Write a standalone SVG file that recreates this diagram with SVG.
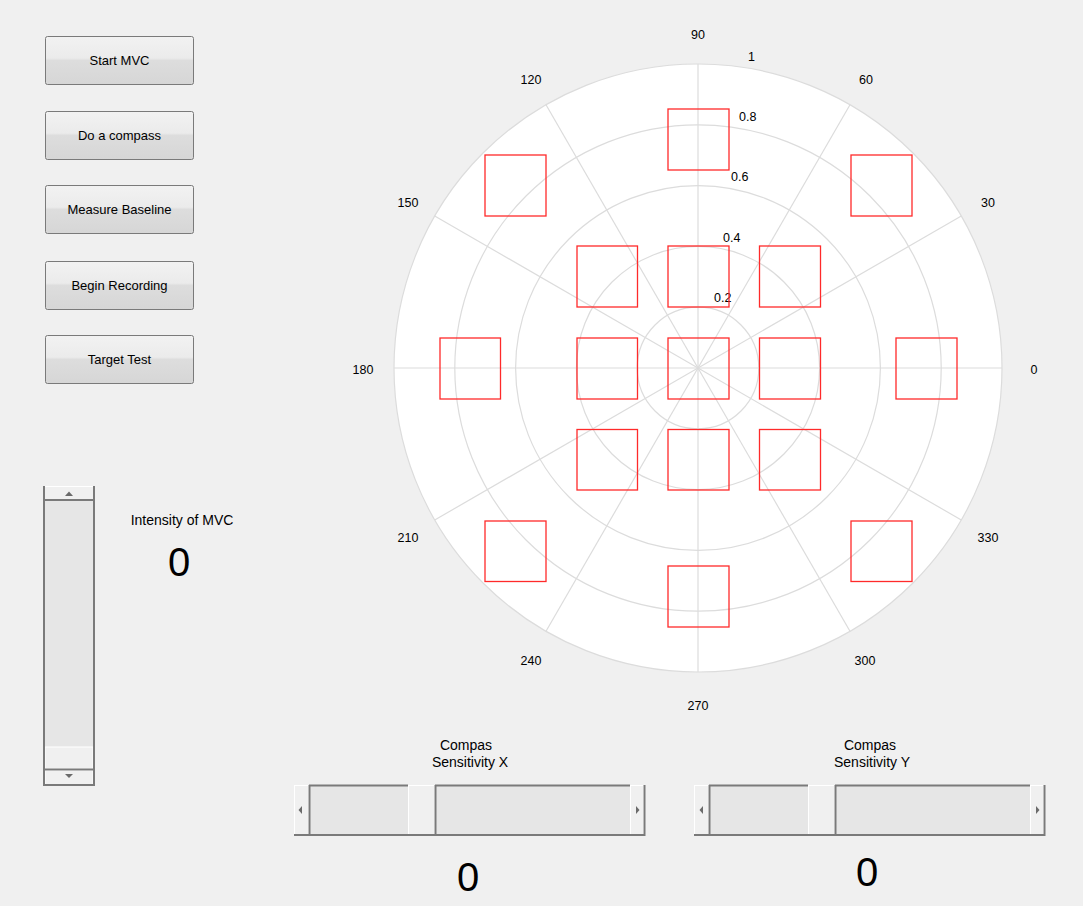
<svg xmlns="http://www.w3.org/2000/svg" width="1083" height="906" viewBox="0 0 1083 906">
<defs>
<linearGradient id="btn" x1="0" y1="0" x2="0" y2="1">
<stop offset="0" stop-color="#f2f2f2"/>
<stop offset="0.45" stop-color="#ebebeb"/>
<stop offset="0.5" stop-color="#dddddd"/>
<stop offset="1" stop-color="#d6d6d6"/>
</linearGradient>
</defs>
<style>
text{font-family:"Liberation Sans",Arial,sans-serif;fill:#000}
.btn rect{fill:url(#btn);stroke:#7a7a7a;stroke-width:1}
.btn text{font-size:13px;text-anchor:middle}
.grid{fill:none;stroke:#dcdcdc;stroke-width:1.2}
.tick{font-size:12.5px;text-anchor:middle}
.rt{font-size:12.5px}
.sq{fill:none;stroke:#ff2a2a;stroke-width:1.3}
.trough{fill:#e6e6e6}
.arrowbtn{fill:#f0f0f0;stroke:#ffffff;stroke-width:1}
.lbl{font-size:14px;text-anchor:middle}
.big{font-size:40px;text-anchor:middle}
.edge{stroke:#7a7a7a;stroke-width:2;fill:none}
.tri{fill:#6a6a6a}
</style>
<rect width="1083" height="906" fill="#f0f0f0"/>

<g id="btn-start" class="btn"><rect x="45.5" y="36.5" width="148" height="48" rx="2"/><text x="119.5" y="65">Start MVC</text></g>
<g id="btn-compass" class="btn"><rect x="45.5" y="111.5" width="148" height="48" rx="2"/><text x="119.5" y="140">Do a compass</text></g>
<g id="btn-baseline" class="btn"><rect x="45.5" y="185.5" width="148" height="48" rx="2"/><text x="119.5" y="214">Measure Baseline</text></g>
<g id="btn-record" class="btn"><rect x="45.5" y="261.5" width="148" height="48" rx="2"/><text x="119.5" y="290">Begin Recording</text></g>
<g id="btn-target" class="btn"><rect x="45.5" y="335.5" width="148" height="48" rx="2"/><text x="119.5" y="364">Target Test</text></g>

<g id="slider-mvc">
<rect x="44" y="486" width="50" height="299" class="trough"/>
<rect x="44.5" y="486.5" width="49" height="13" class="arrowbtn"/>
<path d="M115 496 L119 491.5 L123 496 Z" class="tri" transform="translate(-50,0)"/>
<rect x="45" y="747" width="48" height="22" class="arrowbtn"/>
<rect x="45" y="770.5" width="48" height="14" class="arrowbtn"/>
<path d="M65 774 L73 774 L69 778 Z" class="tri"/>
<line x1="44" y1="486" x2="44" y2="786" class="edge" stroke-width="1"/>
<line x1="94" y1="486" x2="94" y2="786" class="edge"/>
<line x1="44" y1="785" x2="95" y2="785" class="edge"/>
<line x1="44" y1="769.5" x2="94" y2="769.5" class="edge" stroke-width="1.2"/>
<line x1="44" y1="500" x2="94" y2="500" class="edge" stroke-width="1"/>
</g>

<g id="mvc-label">
<text x="182" y="525" class="lbl">Intensity of MVC</text>
<text x="179" y="576" class="big">0</text>
</g>

<g id="polar">
<circle cx="698" cy="368" r="304" fill="#ffffff" class="grid" style="fill:#fff"/>
<circle cx="698" cy="368" r="60.8" class="grid"/>
<circle cx="698" cy="368" r="121.6" class="grid"/>
<circle cx="698" cy="368" r="182.4" class="grid"/>
<circle cx="698" cy="368" r="243.2" class="grid"/>
<g class="grid">
<line x1="394" y1="368" x2="1002" y2="368"/>
<line x1="698" y1="64" x2="698" y2="672"/>
<line x1="434.7" y1="216" x2="961.3" y2="520"/>
<line x1="434.7" y1="520" x2="961.3" y2="216"/>
<line x1="546" y1="104.7" x2="850" y2="631.3"/>
<line x1="546" y1="631.3" x2="850" y2="104.7"/>
</g>
<g class="tick">
<text x="698" y="39">90</text>
<text x="866" y="84">60</text>
<text x="988" y="207">30</text>
<text x="1034" y="374">0</text>
<text x="988" y="542">330</text>
<text x="865" y="665">300</text>
<text x="698" y="710">270</text>
<text x="531" y="665">240</text>
<text x="408" y="542">210</text>
<text x="363" y="374">180</text>
<text x="408" y="207">150</text>
<text x="531" y="84">120</text>
</g>
<g class="rt">
<text x="748" y="61">1</text>
<text x="739" y="121">0.8</text>
<text x="731" y="181">0.6</text>
<text x="723" y="242">0.4</text>
<text x="714" y="302">0.2</text>
</g>
</g>

<g id="targets" class="sq">
<rect x="668" y="109" width="61" height="61"/>
<rect x="485" y="155" width="61" height="61"/>
<rect x="851" y="155" width="61" height="61"/>
<rect x="577" y="246" width="60.5" height="61"/>
<rect x="668" y="246" width="61" height="61"/>
<rect x="759.5" y="246" width="61" height="61"/>
<rect x="440" y="338" width="60.5" height="61"/>
<rect x="577" y="338" width="60.5" height="61"/>
<rect x="668" y="338" width="61" height="61"/>
<rect x="759.5" y="338" width="61" height="61"/>
<rect x="896" y="338" width="61" height="61"/>
<rect x="577" y="429.5" width="60.5" height="60.5"/>
<rect x="668" y="429.5" width="61" height="60.5"/>
<rect x="759.5" y="429.5" width="61" height="60.5"/>
<rect x="485" y="521" width="61" height="60.5"/>
<rect x="851" y="521" width="61" height="60.5"/>
<rect x="668" y="566" width="61" height="61"/>
</g>

<g id="label-x">
<text x="466" y="750" class="lbl">Compas</text>
<text x="470" y="767" class="lbl">Sensitivity X</text>
</g>
<g id="slider-x">
<rect x="294" y="785" width="351" height="50" class="trough"/>
<rect x="294.5" y="785.5" width="14" height="49" class="arrowbtn"/>
<rect x="408.5" y="785.5" width="26" height="49" class="arrowbtn"/>
<rect x="630.5" y="785.5" width="13" height="49" class="arrowbtn"/>
<path d="M302 806 L302 814 L298.5 810 Z" class="tri"/>
<path d="M636 806 L636 814 L639.5 810 Z" class="tri"/>
<line x1="309.5" y1="785" x2="309.5" y2="835" class="edge" stroke-width="1.5"/>
<line x1="435.5" y1="785" x2="435.5" y2="835" class="edge" stroke-width="1.5"/>
<line x1="309" y1="785.5" x2="408" y2="785.5" class="edge" stroke-width="1"/>
<line x1="435" y1="785.5" x2="630" y2="785.5" class="edge" stroke-width="1"/>
<line x1="644.5" y1="785" x2="644.5" y2="836" class="edge"/>
<line x1="294" y1="835" x2="645" y2="835" class="edge"/>
</g>
<g id="value-x"><text x="468" y="891" class="big">0</text></g>

<g id="label-y">
<text x="870" y="750" class="lbl">Compas</text>
<text x="872" y="767" class="lbl">Sensitivity Y</text>
</g>
<g id="slider-y">
<rect x="694" y="785" width="351" height="50" class="trough"/>
<rect x="694.5" y="785.5" width="14" height="49" class="arrowbtn"/>
<rect x="808.5" y="785.5" width="26" height="49" class="arrowbtn"/>
<rect x="1030.5" y="785.5" width="13" height="49" class="arrowbtn"/>
<path d="M703 806 L703 814 L699.5 810 Z" class="tri"/>
<path d="M1036 806 L1036 814 L1039.5 810 Z" class="tri"/>
<line x1="709.5" y1="785" x2="709.5" y2="835" class="edge" stroke-width="1.5"/>
<line x1="835.5" y1="785" x2="835.5" y2="835" class="edge" stroke-width="1.5"/>
<line x1="709" y1="785.5" x2="808" y2="785.5" class="edge" stroke-width="1"/>
<line x1="835" y1="785.5" x2="1030" y2="785.5" class="edge" stroke-width="1"/>
<line x1="1044.5" y1="785" x2="1044.5" y2="836" class="edge"/>
<line x1="694" y1="835" x2="1045" y2="835" class="edge"/>
</g>
<g id="value-y"><text x="867" y="886" class="big">0</text></g>
</svg>
